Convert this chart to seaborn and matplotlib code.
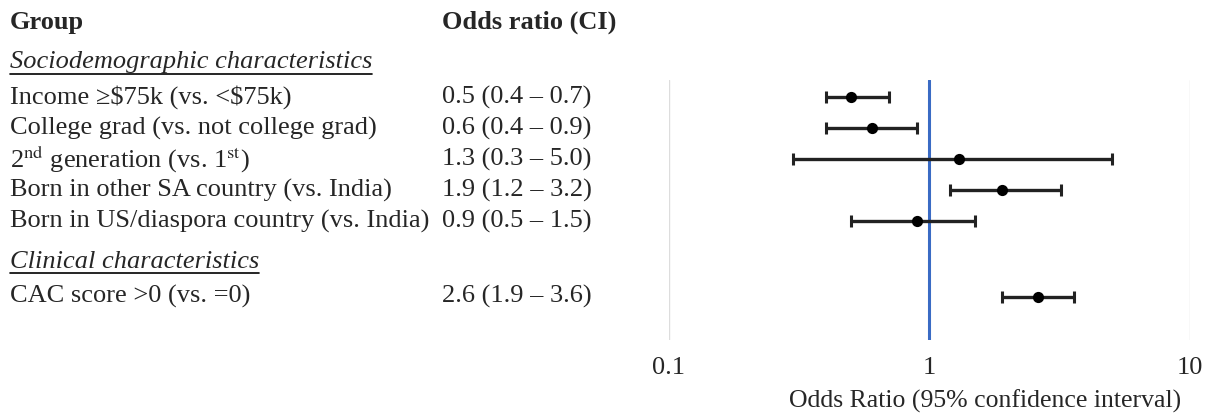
import matplotlib
matplotlib.use("Agg")
import numpy as np
import pandas as pd
import seaborn as sns
import matplotlib.pyplot as plt
import matplotlib.transforms as mtransforms
from matplotlib.lines import Line2D

# data
groups = [
    "Income \u2265\\$75k (vs. <\\$75k)",
    "College grad (vs. not college grad)",
    r"2$^{\mathrm{nd}}$ generation (vs. 1$^{\mathrm{st}}$)",
    "Born in other SA country (vs. India)",
    "Born in US/diaspora country (vs. India)",
    "CAC score >0 (vs. =0)",
]
odds = [0.5, 0.6, 1.3, 1.9, 0.9, 2.6]
ci_low = [0.4, 0.4, 0.3, 1.2, 0.5, 1.9]
ci_high = [0.7, 0.9, 5.0, 3.2, 1.5, 3.6]
# row positions (Clinical section sits a little further down)
row_y = [0, 1, 2, 3, 4, 6.45]
sections = ["Sociodemographic characteristics", "Clinical characteristics"]
section_y = [-1.13, 5.32]
xticks = [0.1, 1, 10]

df = pd.DataFrame({"group": groups, "odds": odds, "lo": ci_low, "hi": ci_high, "y": row_y})

sns.set_theme(style="white")
plt.rcParams["font.family"] = ["Liberation Serif", "DejaVu Serif"]
plt.rcParams["mathtext.fontset"] = "stix"

fig = plt.figure(figsize=(12.07, 4.15), dpi=100)
ax = fig.add_axes([0.554, 0.181, 0.432, 0.626])

# CI bars and points
ax.errorbar(df["odds"], df["y"], xerr=[df["odds"] - df["lo"], df["hi"] - df["odds"]],
            fmt="none", ecolor="#222222", elinewidth=2.4, capsize=4.5, capthick=2.2, zorder=3)
sns.scatterplot(data=df, x="odds", y="y", ax=ax, color="black", s=65, edgecolor="black",
                linewidth=0, zorder=4)

ax.set_xscale("log")
ax.set_xlim(0.1, 10)
ax.set_ylim(7.84, -0.55)
ax.axvline(1, color="#3A6BC4", lw=2.2, zorder=2)
for v in [0.1, 10]:
    ax.axvline(v, color="#dddddd", lw=1, zorder=1)
for s in ax.spines.values():
    s.set_visible(False)
ax.set_yticks([])
ax.set_xticks(xticks)
ax.set_xticklabels([str(t) for t in xticks], fontsize=19)
ax.xaxis.set_minor_locator(matplotlib.ticker.NullLocator())
ax.tick_params(axis="x", length=0, pad=12)
ax.set_xlabel("Odds Ratio (95% confidence interval)", fontsize=18.5)
ax.xaxis.set_label_coords(0.607, -0.19)
ax.set_ylabel("")

# left-hand table, aligned on the same rows as the plot
trans = mtransforms.blended_transform_factory(fig.transFigure, ax.transData)
fs = 19
ax.text(0.008, -2.42, "Group", transform=trans, fontsize=fs, fontweight="bold",
        va="center", ha="left", clip_on=False)
ax.text(0.366, -2.42, "Odds ratio (CI)", transform=trans, fontsize=fs, fontweight="bold",
        va="center", ha="left", clip_on=False)
for g, o, lo, hi, y in zip(groups, odds, ci_low, ci_high, row_y):
    ax.text(0.008, y, g, transform=trans, fontsize=fs, va="center", ha="left", clip_on=False)
    ax.text(0.366, y, f"{o:.1f} ({lo:.1f} \u2013 {hi:.1f})", transform=trans, fontsize=fs,
            va="center", ha="left", clip_on=False)

heads = []
for s, y in zip(sections, section_y):
    heads.append(ax.text(0.008, y, s, transform=trans, fontsize=fs, style="italic",
                         va="center", ha="left", clip_on=False))

# underline the section headers
fig.canvas.draw()
inv = fig.transFigure.inverted()
for t in heads:
    bb = t.get_window_extent()
    (x0, y0), (x1, _) = inv.transform([(bb.x0, bb.y0), (bb.x1, bb.y1)])
    fig.add_artist(Line2D([x0, x1], [y0 - 0.001, y0 - 0.001], transform=fig.transFigure,
                          color="black", lw=1.2))

fig.savefig("out.png", dpi=100, facecolor="white")
